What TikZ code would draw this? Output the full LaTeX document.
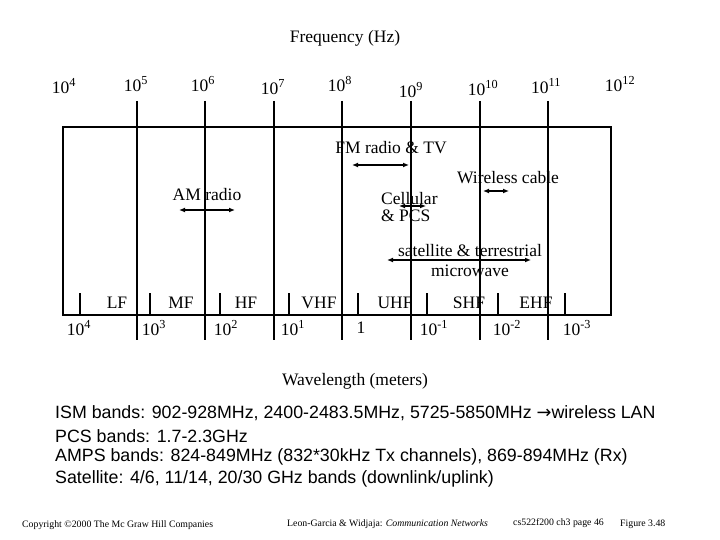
\documentclass[tikz,border=0pt]{standalone}
\usepackage{fontspec}
\setmainfont{Liberation Serif}
\setsansfont{Liberation Sans}
\usetikzlibrary{arrows.meta}
\begin{document}
\begin{tikzpicture}[x=1pt,y=-1pt,
  lbl/.style={font=\fontsize{17.5}{19}\selectfont,inner sep=0pt},
  bul/.style={font=\sffamily\fontsize{17.8}{20}\selectfont,inner sep=0pt,anchor=west},
  foot/.style={font=\fontsize{9.8}{11}\selectfont,inner sep=0pt,anchor=west},
  vline/.style={line width=1.5pt},
  dbl/.style={line width=1.5pt,{Latex[length=6pt,width=5pt]}-{Latex[length=6pt,width=5pt]}}]
\useasboundingbox (0,0) rectangle (720,540);
\draw[line width=1.5pt] (63,127) rectangle (611,315);
\node[lbl] (ft) at (345,38) {Frequency (Hz)};
\foreach \x/\y/\e in {64/86/4,136/84/5,203/84/6,273/87/7,340/84/8,411/90/9,483/88/10,546/86/11,620/84/12}
  \node[lbl] (f\e) at (\x,\y) {10\textsuperscript{\e}};
\foreach \x in {137,205,274,342,411,480,548}
  \draw[vline] (\x,101) -- (\x,340);
\foreach \x in {80,150,220,289,358,427,498,565}
  \draw[vline] (\x,293) -- (\x,315);
\foreach \x/\t in {117/LF,181/MF,246/HF,319/VHF,395/UHF,469/SHF,536/EHF}
  \node[lbl] at (\x,303) {\t};
\foreach \x/\t in {79/10\textsuperscript{4},154/10\textsuperscript{3},226/10\textsuperscript{2},293/10\textsuperscript{1},361/1,434/10\textsuperscript{-1},507/10\textsuperscript{-2},577/10\textsuperscript{-3}}
  \node[lbl] at (\x,328) {\t};
\node[lbl] (fm) at (391,148) {FM radio \& TV};
\coordinate (fma) at (352,165); \coordinate (fmb) at (409,165);
\draw[dbl] (fma) -- (fmb);
\node[lbl] (wc) at (508,178) {Wireless cable};
\coordinate (wca) at (483,191); \coordinate (wcb) at (509,191);
\draw[dbl] (wca) -- (wcb);
\node[lbl] (am) at (207,195) {AM radio};
\coordinate (ama) at (179,210); \coordinate (amb) at (235,210);
\draw[dbl] (ama) -- (amb);
\node[lbl,anchor=west,align=left] (cell) at (381,207) {Cellular\\[-2pt]\& PCS};
\coordinate (cea) at (399,206); \coordinate (ceb) at (426,206);
\draw[dbl] (cea) -- (ceb);
\node[lbl,align=center] (sat) at (470,261) {satellite \& terrestrial\\[1pt]microwave};
\coordinate (saa) at (387,260); \coordinate (sab) at (531,260);
\draw[dbl] (saa) -- (sab);
\node[lbl] (wl) at (355,381) {Wavelength (meters)};
\node[bul] at (55,413) {ISM bands: 902-928MHz, 2400-2483.5MHz, 5725-5850MHz {\fontspec{DejaVu Sans}→}wireless LAN};
\node[bul] at (55,436) {PCS bands: 1.7-2.3GHz};
\node[bul] at (55,457) {AMPS bands: 824-849MHz (832*30kHz Tx channels), 869-894MHz (Rx)};
\node[bul] at (55,479) {Satellite: 4/6, 11/14, 20/30 GHz bands (downlink/uplink)};
\node[foot] at (22,525) {Copyright \textcopyright2000 The Mc Graw Hill Companies};
\node[foot] at (287,524) {Leon-Garcia \& Widjaja: \textit{Communication Networks}};
\node[foot] at (513,523) {cs522f200 ch3 page 46};
\node[foot] at (620,524) {Figure 3.48};
\end{tikzpicture}
\end{document}
